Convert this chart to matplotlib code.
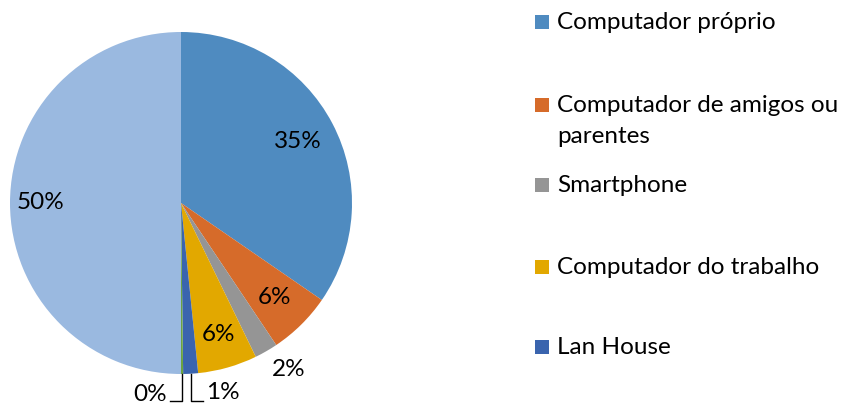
import numpy as np
import matplotlib.pyplot as plt
from matplotlib.patches import Rectangle

# valores (%)
categorias = ['Computador próprio', 'Computador de amigos ou\nparentes',
              'Smartphone', 'Computador do trabalho', 'Lan House',
              'Outros', 'Não acessa']
valores = [34.6, 6.0, 2.2, 5.6, 1.4, 0.2, 50.0]
rotulos = ['35%', '6%', '2%', '6%', '1%', '0%', '50%']
cores = ['#4F8BC0', '#D66B2A', '#959595', '#E2A800', '#3A64AE', '#6AA342', '#9AB9E0']
n_legenda = 5

plt.rcParams['font.family'] = ['Lato', 'DejaVu Sans']

W, H = 846, 408
fig = plt.figure(figsize=(W / 100, H / 100), dpi=100)
cx, cy, r = 181, 203, 171
ax = fig.add_axes([(cx - r) / W, (H - cy - r) / H, 2 * r / W, 2 * r / H])

wedges, _ = ax.pie(valores, colors=cores, startangle=90, counterclock=False,
                   radius=1, wedgeprops=dict(linewidth=0))
ax.set_xlim(-1, 1)
ax.set_ylim(-1, 1)
ax.set_aspect('equal')
ax.axis('off')

fs = 17.5
dist = {0: 0.77, 1: 0.78, 3: 0.80, 6: 0.82}
for i, w in enumerate(wedges):
    ang = np.deg2rad((w.theta1 + w.theta2) / 2)
    if i in dist:
        d = dist[i]
        ax.text(d * np.cos(ang), d * np.sin(ang), rotulos[i], ha='center',
                va='center', fontsize=fs, color='black')
    elif i == 2:
        ax.text(1.16 * np.cos(ang) + 0.05, 1.16 * np.sin(ang) + 0.03, rotulos[i],
                ha='center', va='center', fontsize=fs, clip_on=False)
    elif i == 4:
        x0, y0 = np.cos(ang), np.sin(ang)
        ax.plot([x0, x0, x0 + 0.07], [y0, -1.16, -1.16], color='black',
                lw=1, clip_on=False)
        ax.text(x0 + 0.09, -1.11, rotulos[i], ha='left', va='center',
                fontsize=fs, clip_on=False)
    elif i == 5:
        x0, y0 = np.cos(ang), np.sin(ang)
        ax.plot([x0, x0, x0 - 0.07], [y0, -1.16, -1.16], color='black',
                lw=1, clip_on=False)
        ax.text(x0 - 0.09, -1.12, rotulos[i], ha='right', va='center',
                fontsize=fs, clip_on=False)

# legenda
ys = [22, 105, 185, 267, 347]
for i in range(n_legenda):
    y = ys[i]
    fig.patches.append(Rectangle((535 / W, (H - y - 7) / H), 14 / W, 14 / H,
                                 transform=fig.transFigure,
                                 facecolor=wedges[i].get_facecolor(),
                                 edgecolor='none'))
    fig.text(557 / W, (H - y + 10) / H, categorias[i], ha='left', va='top',
             fontsize=fs, linespacing=1.6)

fig.savefig('out.png', dpi=100)
